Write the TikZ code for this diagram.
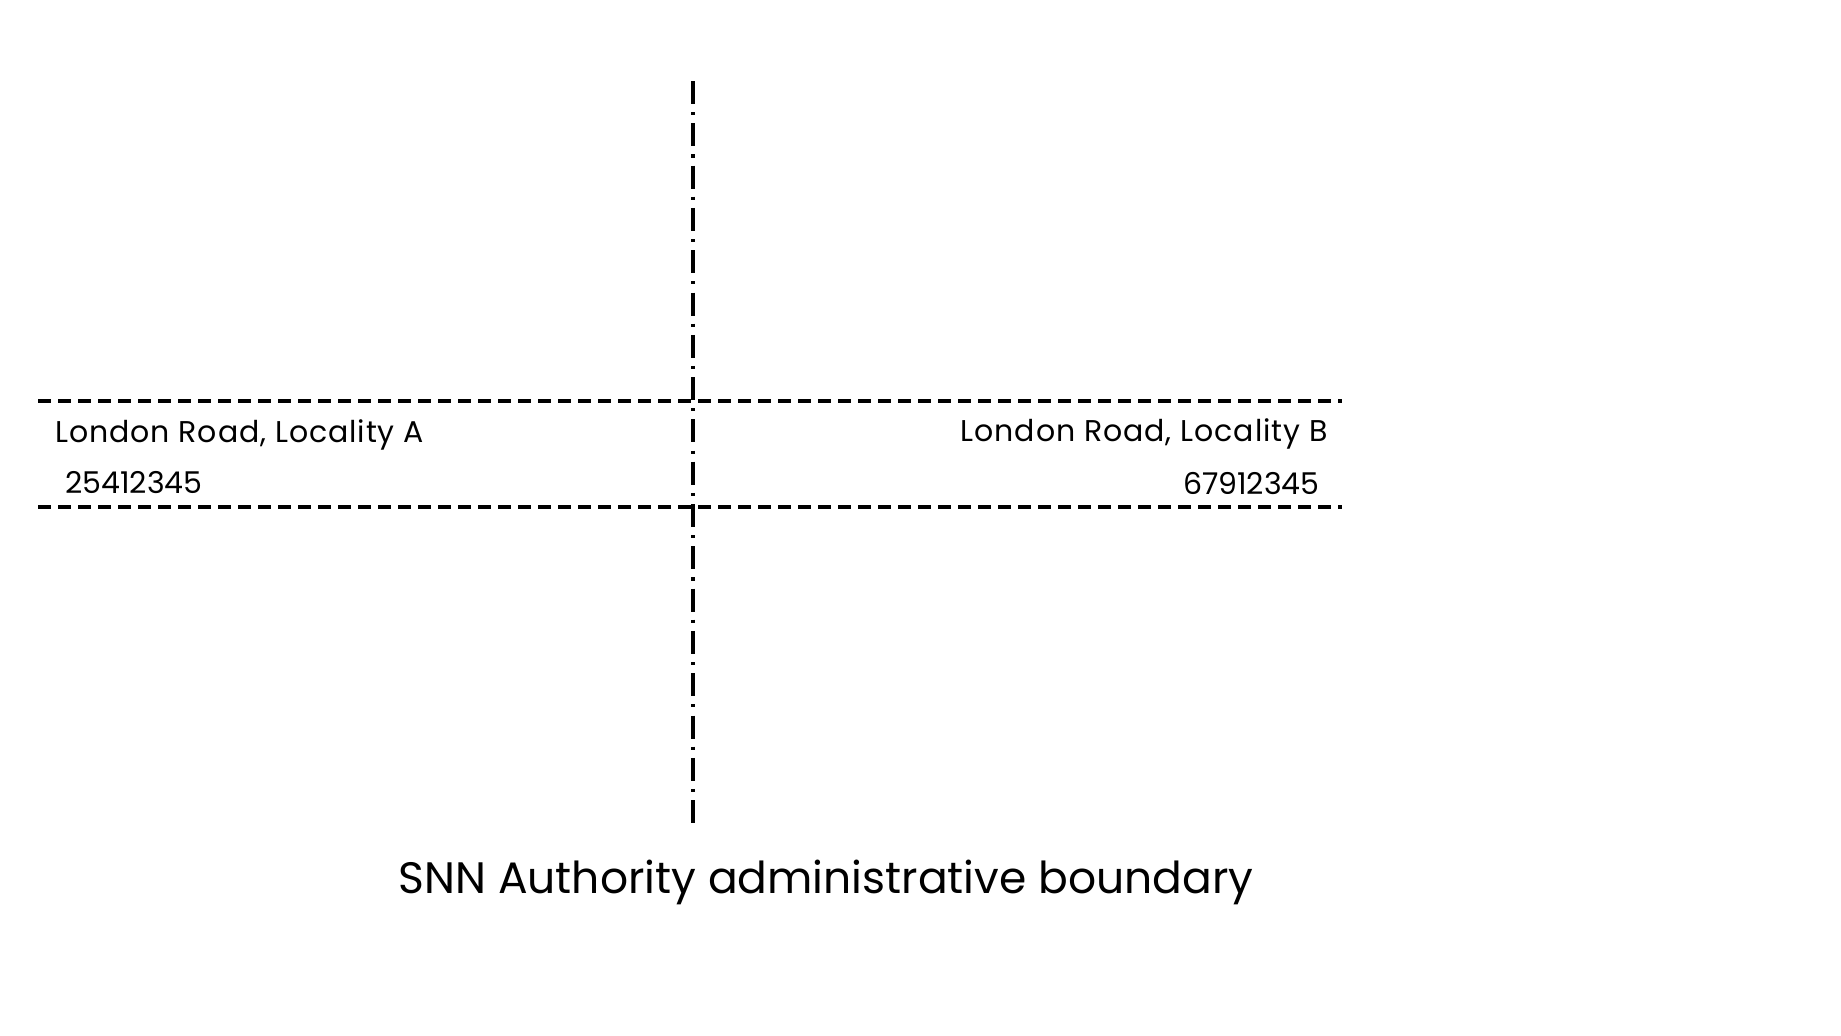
\documentclass[tikz,border=0pt]{standalone}
\usepackage{fontspec}
\setmainfont{Poppins}
\usetikzlibrary{positioning}

\begin{document}
\begin{tikzpicture}[
            x=0.5pt, y=-0.5pt,
            road/.style={line width=1.6pt, dash pattern=on 6.6pt off 3.4pt},
            border/.style={line width=1.7pt, dash pattern=on 11.5pt off 4.05pt on 1.55pt off 4.05pt},
            roadlabel/.style={inner sep=0pt, font=\fontsize{15}{18}\selectfont\addfontfeature{LetterSpace=3}},
            usrnlabel/.style={inner sep=0pt, font=\fontsize{15}{18}\selectfont},
            borderlabel/.style={inner sep=0pt, font=\fontsize{22}{26}\selectfont}
        ]
        \useasboundingbox (0, 0) rectangle (1841, 1035);
        \def\roadTop{401}
        \def\roadBot{507}
        \def\borderX{693}

        % street edges
        \coordinate (top west) at (38, \roadTop);
        \coordinate (top east) at (1342, \roadTop);
        \coordinate (bot west) at (38, \roadBot);
        \coordinate (bot east) at (1342, \roadBot);
        \draw[road] (top west) -- (top east);
        \draw[road] (bot west) -- (bot east);

        % authority boundary
        \coordinate (border north) at (\borderX, 81);
        \coordinate (border south) at (\borderX, 823);
        \draw[border] (border north) -- (border south);

        \node[roadlabel, anchor=base west] (street A) at (55, 442) {London Road, Locality A};
        \node[usrnlabel, anchor=base west] (usrn A) at (65, 493) {25412345};
        \node[roadlabel, anchor=base east] (street B) at (1328, 441) {London Road, Locality B};
        \node[usrnlabel, anchor=base east] (usrn B) at (1320, 494) {67912345};

        \node[borderlabel, anchor=base] (boundary) at (826, 893) {SNN Authority administrative boundary};
    \end{tikzpicture}
\end{document}
